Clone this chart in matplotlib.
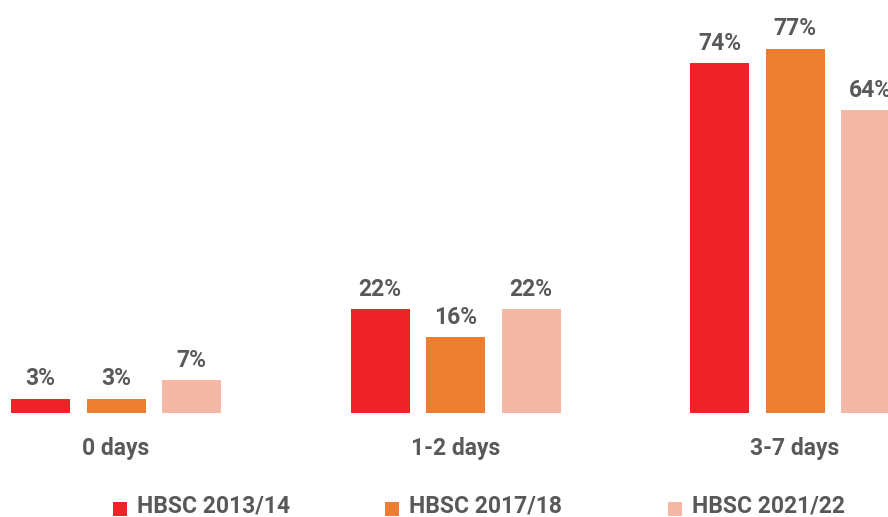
import matplotlib

matplotlib.use("Agg")
import matplotlib.pyplot as plt
from matplotlib.patches import Rectangle
import numpy as np

categories = ["0 days", "1-2 days", "3-7 days"]
series_names = ["HBSC 2013/14", "HBSC 2017/18", "HBSC 2021/22"]
hbsc_2013 = [3, 22, 74]
hbsc_2017 = [3, 16, 77]
hbsc_2021 = [7, 22, 64]
colors = ["#EE2327", "#ED7D31", "#F4B8A6"]
text_color = "#595959"

plt.rcParams["font.family"] = ["Roboto", "DejaVu Sans"]
plt.rcParams["font.weight"] = "bold"

W, H = 888, 517
fig = plt.figure(figsize=(W / 100, H / 100), dpi=100)
ax = fig.add_axes([0, 104 / H, 1, 413 / H])

x = np.arange(len(categories))
step = 339.5
width = 59 / step
offset = 75.5 / step

for i, vals in enumerate([hbsc_2013, hbsc_2017, hbsc_2021]):
    bars = ax.bar(x + (i - 1) * offset, vals, width, color=colors[i])
    ax.bar_label(bars, labels=[f"{v}%" for v in vals], padding=6,
                 fontsize=16.5, fontweight="bold", color=text_color)

ax.set_xlim(-116 / step, (W - 116) / step)
ax.set_ylim(0, 413 / 4.73)
ax.set_xticks(x)
ax.set_xticklabels(categories, fontsize=16.5, fontweight="bold", color=text_color)
ax.tick_params(axis="x", length=0, pad=17)
ax.set_yticks([])
for s in ax.spines.values():
    s.set_visible(False)

# legend drawn by hand so the entries sit where the reference has them
legend_x = [113, 385, 668]
for lx, name, c in zip(legend_x, series_names, colors):
    fig.add_artist(Rectangle((lx / W, 1 / H), 14 / W, 14 / H,
                             transform=fig.transFigure, color=c, lw=0))
    fig.text((lx + 24) / W, 4 / H, name, fontsize=16.5, fontweight="bold",
             color=text_color, va="baseline", ha="left")

fig.savefig("out.png", dpi=100)
